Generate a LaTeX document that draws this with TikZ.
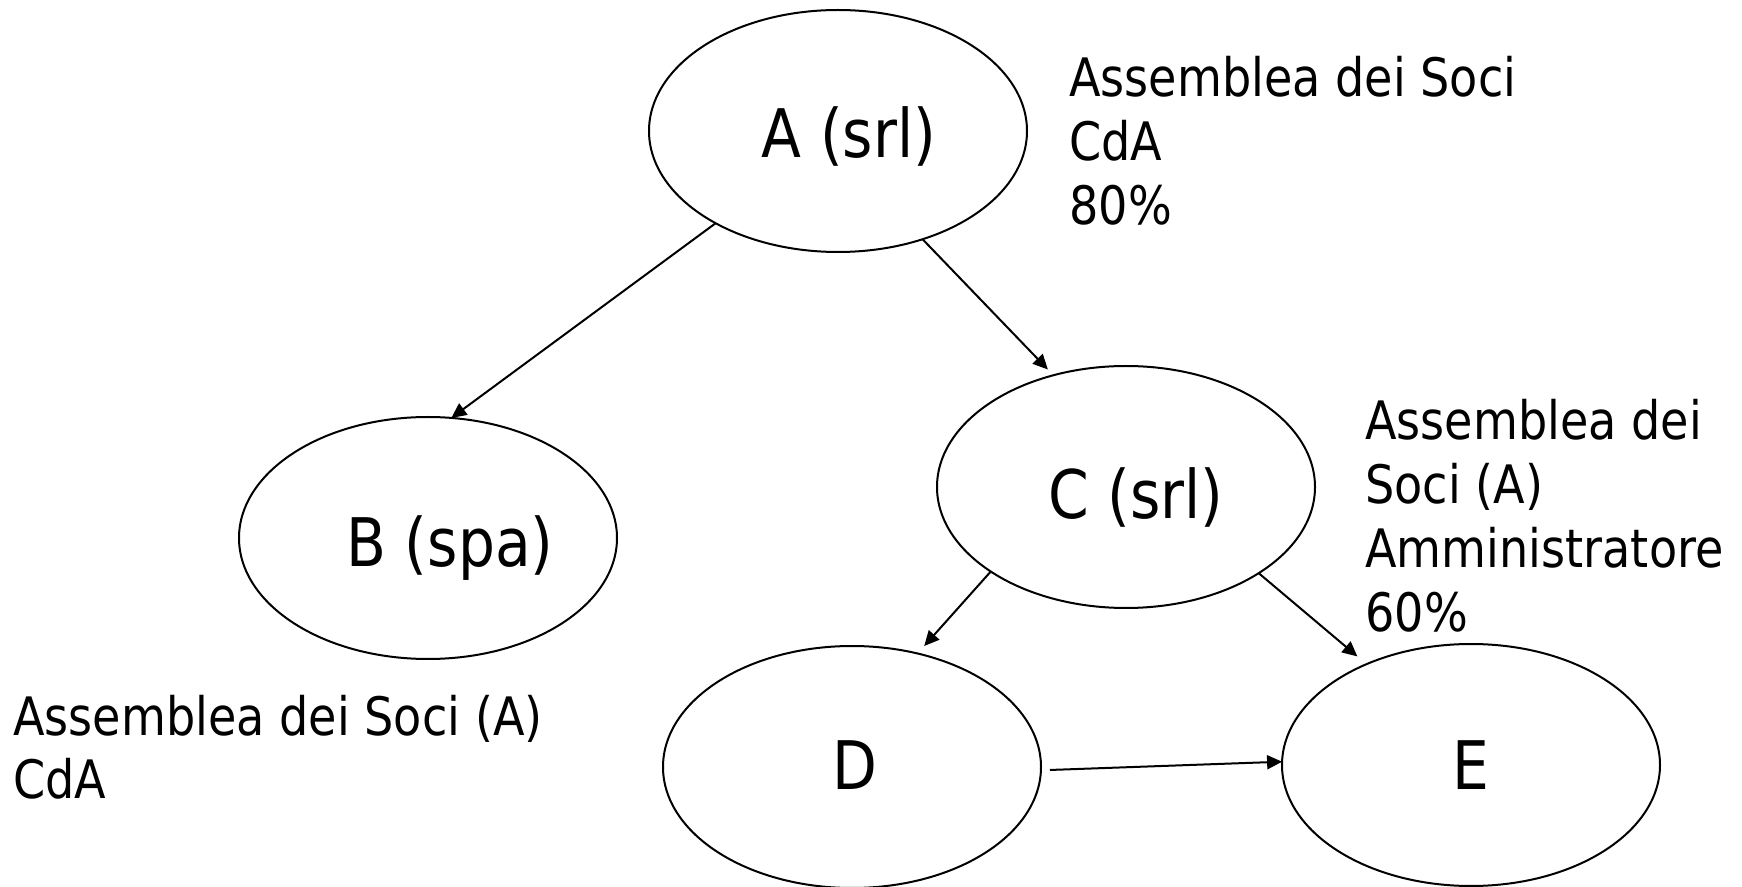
\documentclass[tikz,border=0pt]{standalone}
\usepackage{fontspec}
\setmainfont{DejaVu Sans}[FakeStretch=0.87]
\usetikzlibrary{arrows.meta,shapes.geometric}
\begin{document}
\begin{tikzpicture}[x=0.5pt,y=-0.5pt,
  ell/.style={draw, line width=1pt, ellipse, minimum width=189pt, minimum height=121pt, inner sep=0pt, outer sep=0pt},
  ntext/.style={inner sep=0pt, anchor=base, font=\fontsize{33.5}{40}\selectfont},
  side/.style={inner sep=0pt, anchor=base west, font=\fontsize{26.5}{32}\selectfont},
  conn/.style={line width=1pt, -{Triangle[length=7.5pt,width=7pt]}}]
\useasboundingbox (0,0) rectangle (1742,887);
% ellipses
\node[ell] (A) at (838,131) {};
\node[ell] (B) at (428,538) {};
\node[ell] (C) at (1126,487) {};
\node[ell] (D) at (852,767) {};
\node[ell] (E) at (1471,765) {};
% texts inside ellipses
\node[ntext] (At) at (849,158) {A (srl)};
\node[ntext] (Bt) at (450,567) {B (spa)};
\node[ntext] (Ct) at (1136,519) {C (srl)};
\node[ntext] (Dt) at (855,789) {D};
\node[ntext] (Et) at (1471,789) {E};
% side labels
\node[side] (LA) at (1069,97) {\begin{tabular}[t]{@{}l@{}}Assemblea dei Soci\\CdA\\80\%\end{tabular}};
\node[side] (LC) at (1365,440) {\begin{tabular}[t]{@{}l@{}}Assemblea dei\\Soci (A)\\Amministratore\\60\%\end{tabular}};
\node[side] (LB) at (13,735) {\begin{tabular}[t]{@{}l@{}}Assemblea dei Soci (A)\\CdA\end{tabular}};
% connectors
\draw[conn] (A.217.5) -- (B.79.2);
\draw[conn, shorten >=4pt] (A.308.1) -- (C.123.4);
\draw[conn, shorten >=5pt] (C.212.7) -- (D.60.4);
\draw[conn, shorten >=6pt] (C.327.5) -- (E.136.8);
\draw[conn, shorten <=4.5pt] (D.359.7) -- (E.179.4);
\end{tikzpicture}
\end{document}
